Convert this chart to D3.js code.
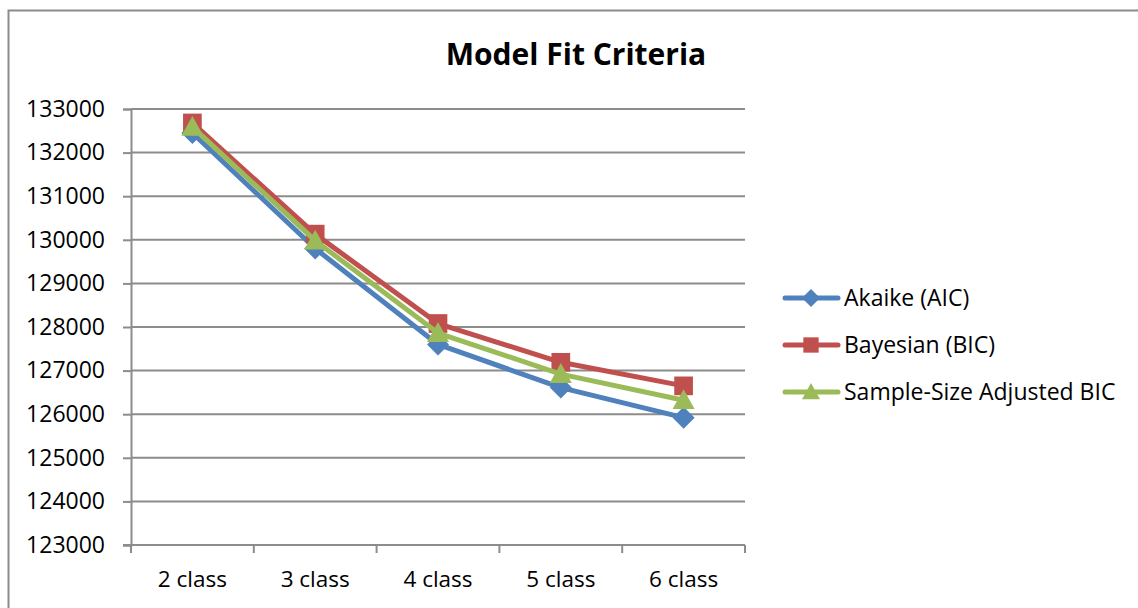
<!DOCTYPE html>
<html>
<head>
<meta charset="utf-8">
<script src="https://cdn.jsdelivr.net/npm/d3@7"></script>
<style>
  html, body { margin: 0; padding: 0; background: #fff; }
  svg { display: block; font-family: "Open Sans", Lato, sans-serif; }
</style>
</head>
<body>
<svg id="chart" width="1138" height="608"></svg>
<script>
// Model fit values for each latent class solution
const categories = ["2 class", "3 class", "4 class", "5 class", "6 class"];
const aicValues = [132450, 129800, 127600, 126610, 125920];
const bicValues = [132680, 130130, 128080, 127190, 126650];
const sabicValues = [132590, 129980, 127860, 126920, 126320];
const yTicks = [123000, 124000, 125000, 126000, 127000, 128000, 129000, 130000, 131000, 132000, 133000];
const seriesNames = ["Akaike (AIC)", "Bayesian (BIC)", "Sample-Size Adjusted BIC"];

const series = [
  { name: seriesNames[0], values: aicValues, color: "#4F81BD", marker: "diamond" },
  { name: seriesNames[1], values: bicValues, color: "#C0504D", marker: "square" },
  { name: seriesNames[2], values: sabicValues, color: "#9BBB59", marker: "triangle" }
];

const svg = d3.select("#chart");
const plot = { left: 131, right: 745, top: 109, bottom: 545 };
const gridColor = "#8c8c8c";

// Chart frame
svg.append("rect")
  .attr("x", 8.5).attr("y", 10.5)
  .attr("width", 1140).attr("height", 610)
  .attr("fill", "none").attr("stroke", "#8c8c8c").attr("stroke-width", 2);

// Title
svg.append("text")
  .attr("x", 576).attr("y", 65)
  .attr("text-anchor", "middle")
  .attr("font-size", 30).attr("font-weight", "bold")
  .attr("fill", "#000")
  .text("Model Fit Criteria");

const x = d3.scaleBand().domain(categories).range([plot.left, plot.right]);
const y = d3.scaleLinear().domain([123000, 133000]).range([plot.bottom, plot.top]);

// Horizontal gridlines
svg.append("g").selectAll("line")
  .data(yTicks.filter(t => t !== 123000))
  .join("line")
  .attr("x1", plot.left).attr("x2", plot.right)
  .attr("y1", d => y(d)).attr("y2", d => y(d))
  .attr("stroke", gridColor).attr("stroke-width", 2);

// Y axis
const yAxis = svg.append("g")
  .attr("transform", `translate(${plot.left},0)`)
  .call(d3.axisLeft(y).tickValues(yTicks).tickFormat(d3.format("d")).tickSize(8).tickPadding(18));
yAxis.select(".domain").attr("stroke", gridColor).attr("stroke-width", 2);
yAxis.selectAll(".tick line").attr("stroke", gridColor).attr("stroke-width", 2);
yAxis.selectAll(".tick text")
  .attr("font-size", 23).attr("fill", "#000")
  .attr("font-family", "'Open Sans', Lato, sans-serif");

// X axis with ticks at category boundaries
const xAxisG = svg.append("g").attr("transform", `translate(0,${plot.bottom})`);
xAxisG.append("line")
  .attr("x1", plot.left - 8).attr("x2", plot.right)
  .attr("stroke", gridColor).attr("stroke-width", 2);
const boundaries = categories.map(c => x(c)).concat([x(categories[categories.length - 1]) + x.bandwidth()]);
xAxisG.selectAll("line.tk")
  .data(boundaries)
  .join("line").attr("class", "tk")
  .attr("x1", d => d).attr("x2", d => d)
  .attr("y1", 0).attr("y2", 8)
  .attr("stroke", gridColor).attr("stroke-width", 2);
xAxisG.selectAll("text")
  .data(categories)
  .join("text")
  .attr("x", d => x(d) + x.bandwidth() / 2)
  .attr("y", 42)
  .attr("text-anchor", "middle")
  .attr("font-size", 22.5).attr("fill", "#000")
  .text(d => d);

// Marker shapes
function markerPath(type, size) {
  const s = size / 2;
  if (type === "diamond") return `M0,${-s}L${s},0L0,${s}L${-s},0Z`;
  if (type === "square") return `M${-s * 0.85},${-s * 0.85}H${s * 0.85}V${s * 0.85}H${-s * 0.85}Z`;
  return `M0,${-s}L${s},${s * 0.8}L${-s},${s * 0.8}Z`;
}

const line = d3.line()
  .x((d, i) => x(categories[i]) + x.bandwidth() / 2)
  .y(d => y(d));

const seriesG = svg.append("g");
series.forEach(s => {
  const g = seriesG.append("g");
  g.append("path")
    .attr("d", line(s.values))
    .attr("fill", "none")
    .attr("stroke", s.color)
    .attr("stroke-width", 5)
    .attr("stroke-linejoin", "round");
  g.selectAll("path.m")
    .data(s.values)
    .join("path").attr("class", "m")
    .attr("transform", (d, i) => `translate(${x(categories[i]) + x.bandwidth() / 2},${y(d)})`)
    .attr("d", markerPath(s.marker, 22))
    .attr("fill", s.color);
});

// Legend
const legend = svg.append("g");
const legendY = [298, 345, 392];
series.forEach((s, i) => {
  const g = legend.append("g").attr("transform", `translate(0,${legendY[i]})`);
  g.append("line")
    .attr("x1", 785).attr("x2", 838)
    .attr("stroke", s.color).attr("stroke-width", 5).attr("stroke-linecap", "round");
  g.append("path")
    .attr("transform", "translate(811,0)")
    .attr("d", markerPath(s.marker, 18))
    .attr("fill", s.color);
  g.append("text")
    .attr("x", 844).attr("y", 0).attr("dy", "0.35em")
    .attr("font-size", 23).attr("fill", "#000")
    .text(s.name);
});
</script>
</body>
</html>
